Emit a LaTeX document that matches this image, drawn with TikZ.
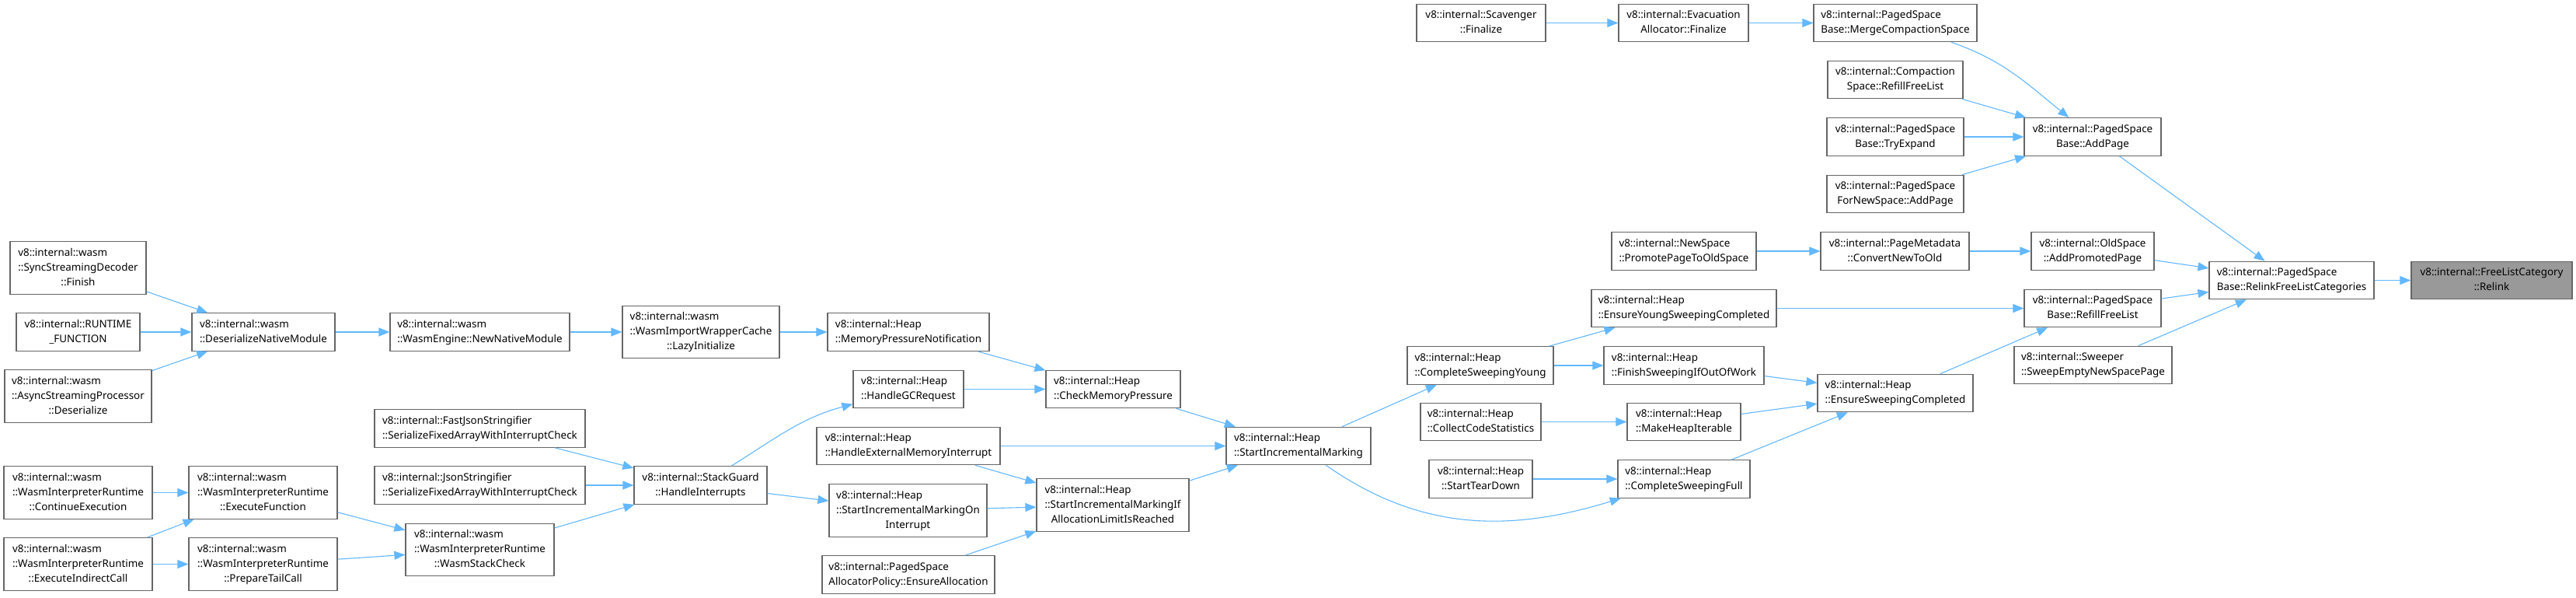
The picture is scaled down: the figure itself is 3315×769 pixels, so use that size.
\documentclass[tikz,border=0pt]{standalone}
\usepackage{fontspec}
\setmainfont{Noto Sans}
\usetikzlibrary{arrows.meta}
\definecolor{edgec}{HTML}{63B8FF}
\definecolor{borderc}{HTML}{666666}
\definecolor{hlc}{HTML}{999999}
\newcommand\lbl[2]{\begin{tabular}{@{}l@{}}#1\\\multicolumn{1}{@{}c@{}}{#2}\end{tabular}}
\tikzset{
  box/.style={draw=borderc, line width=0.6pt, fill=white, inner sep=0pt,
    font=\fontsize{6.7pt}{9.5pt}\selectfont, anchor=center},
  bw/.style={minimum width=#1*0.5pt},
  htwo/.style={minimum height=24.25pt},
  hthree/.style={minimum height=33.75pt},
  hl/.style={fill=hlc},
  edge/.style={draw=edgec, line width=0.55pt, -{Triangle[length=7pt,width=5.5pt]}}
}
\begin{document}
\begin{tikzpicture}[x=0.5pt, y=-0.5pt]
\useasboundingbox (0,0) rectangle (3315,769);
\fill[white] (0,0) rectangle (3315,769);

% left column
\node[box, bw=175, hthree] (sync) at (100.5,344.5) {\lbl{v8::internal::wasm\\::SyncStreamingDecoder}{::Finish}};
\node[box, bw=159, htwo] (runtime) at (100.5,427) {\lbl{v8::internal::RUNTIME}{\_FUNCTION}};
\node[box, bw=189, hthree] (async) at (100.5,509.5) {\lbl{v8::internal::wasm\\::AsyncStreamingProcessor}{::Deserialize}};
\node[box, bw=191, hthree] (cont) at (100.5,633.5) {\lbl{v8::internal::wasm\\::WasmInterpreterRuntime}{::ContinueExecution}};
\node[box, bw=191, hthree] (indir) at (100.5,725.5) {\lbl{v8::internal::wasm\\::WasmInterpreterRuntime}{::ExecuteIndirectCall}};

\node[box, bw=184, htwo] (deser) at (339,427) {\lbl{v8::internal::wasm}{::DeserializeNativeModule}};
\node[box, bw=191, hthree] (execf) at (338.5,633.5) {\lbl{v8::internal::wasm\\::WasmInterpreterRuntime}{::ExecuteFunction}};
\node[box, bw=191, hthree] (tail) at (338.5,725.5) {\lbl{v8::internal::wasm\\::WasmInterpreterRuntime}{::PrepareTailCall}};

\node[box, bw=231, htwo] (newnm) at (617.5,427) {\lbl{v8::internal::wasm}{::WasmEngine::NewNativeModule}};
\node[box, bw=271, htwo] (fastjson) at (617.5,551) {\lbl{v8::internal::FastJsonStringifier}{::SerializeFixedArrayWithInterruptCheck}};
\node[box, bw=271, htwo] (json) at (617.5,624) {\lbl{v8::internal::JsonStringifier}{::SerializeFixedArrayWithInterruptCheck}};
\node[box, bw=191, hthree] (stackcheck) at (617.5,707) {\lbl{v8::internal::wasm\\::WasmInterpreterRuntime}{::WasmStackCheck}};

\node[box, bw=202, hthree] (lazy) at (902,427) {\lbl{v8::internal::wasm\\::WasmImportWrapperCache}{::LazyInitialize}};
\node[box, bw=171, htwo] (hint) at (901.5,624) {\lbl{v8::internal::StackGuard}{::HandleInterrupts}};

\node[box, bw=208, htwo] (mpn) at (1169,427) {\lbl{v8::internal::Heap}{::MemoryPressureNotification}};
\node[box, bw=142, htwo] (hgc) at (1169,500.5) {\lbl{v8::internal::Heap}{::HandleGCRequest}};
\node[box, bw=236, htwo] (hemi) at (1169,573.5) {\lbl{v8::internal::Heap}{::HandleExternalMemoryInterrupt}};
\node[box, bw=203, hthree] (simoi) at (1168.5,656.5) {\lbl{v8::internal::Heap\\::StartIncrementalMarkingOn}{Interrupt}};
\node[box, bw=222, htwo] (ensalloc) at (1169,739) {\lbl{v8::internal::PagedSpace}{AllocatorPolicy::EnsureAllocation}};

\node[box, bw=173, htwo] (cmp) at (1432.5,500.5) {\lbl{v8::internal::Heap}{::CheckMemoryPressure}};
\node[box, bw=196, hthree] (simif) at (1432,649.5) {\lbl{v8::internal::Heap\\::StartIncrementalMarkingIf}{AllocationLimitIsReached}};

\node[box, bw=186, htwo] (sim) at (1671,573.5) {\lbl{v8::internal::Heap}{::StartIncrementalMarking}};

\node[box, bw=166, htwo] (scav) at (1906,29.5) {\lbl{v8::internal::Scavenger}{::Finalize}};
\node[box, bw=188, htwo] (csy) at (1905,470) {\lbl{v8::internal::Heap}{::CompleteSweepingYoung}};
\node[box, bw=155, htwo] (ccs) at (1905.5,542.5) {\lbl{v8::internal::Heap}{::CollectCodeStatistics}};
\node[box, bw=133, htwo] (std) at (1905.5,616) {\lbl{v8::internal::Heap}{::StartTearDown}};

\node[box, bw=167, htwo] (evac) at (2166.5,29.5) {\lbl{v8::internal::Evacuation}{Allocator::Finalize}};
\node[box, bw=186, htwo] (promote) at (2167,323) {\lbl{v8::internal::NewSpace}{::PromotePageToOldSpace}};
\node[box, bw=238, htwo] (eysc) at (2167,396.5) {\lbl{v8::internal::Heap}{::EnsureYoungSweepingCompleted}};
\node[box, bw=206, htwo] (fsw) at (2167,470) {\lbl{v8::internal::Heap}{::FinishSweepingIfOutOfWork}};
\node[box, bw=146, htwo] (mhi) at (2167,542.5) {\lbl{v8::internal::Heap}{::MakeHeapIterable}};
\node[box, bw=170, htwo] (csf) at (2167,616) {\lbl{v8::internal::Heap}{::CompleteSweepingFull}};

\node[box, bw=210, htwo] (mcs) at (2439,29.5) {\lbl{v8::internal::PagedSpace}{Base::MergeCompactionSpace}};
\node[box, bw=174, htwo] (csrfl) at (2439,102.5) {\lbl{v8::internal::Compaction}{Space::RefillFreeList}};
\node[box, bw=176, htwo] (tryexp) at (2439,176) {\lbl{v8::internal::PagedSpace}{Base::TryExpand}};
\node[box, bw=176, htwo] (fnsap) at (2439,249.5) {\lbl{v8::internal::PagedSpace}{ForNewSpace::AddPage}};
\node[box, bw=191, htwo] (cnto) at (2438.5,323) {\lbl{v8::internal::PageMetadata}{::ConvertNewToOld}};
\node[box, bw=200, htwo] (esc) at (2439,505.5) {\lbl{v8::internal::Heap}{::EnsureSweepingCompleted}};

\node[box, bw=176, htwo] (addpage) at (2693,176) {\lbl{v8::internal::PagedSpace}{Base::AddPage}};
\node[box, bw=158, htwo] (app) at (2693,323) {\lbl{v8::internal::OldSpace}{::AddPromotedPage}};
\node[box, bw=176, htwo] (rfl) at (2693,396.5) {\lbl{v8::internal::PagedSpace}{Base::RefillFreeList}};
\node[box, bw=203, htwo] (sweep) at (2693.5,469.5) {\lbl{v8::internal::Sweeper}{::SweepEmptyNewSpacePage}};

\node[box, bw=212, htwo] (rflc) at (2949,360.5) {\lbl{v8::internal::PagedSpace}{Base::RelinkFreeListCategories}};
\node[box, hl, bw=207, htwo] (relink) at (3206.5,360.5) {\lbl{v8::internal::FreeListCategory}{::Relink}};

% edges
\draw[edge] (sync) -- (deser);
\draw[edge] (runtime) -- (deser);
\draw[edge] (async) -- (deser);
\draw[edge] (deser) -- (newnm);
\draw[edge] (newnm) -- (lazy);
\draw[edge] (lazy) -- (mpn);
\draw[edge] (mpn) -- (cmp);
\draw[edge] (hgc) -- (cmp);
\draw[edge] (cmp) -- (sim);
\draw[edge] (hemi) -- (sim);
\draw[edge] (hemi) -- (simif);
\draw[edge] (simoi) -- (simif);
\draw[edge] (ensalloc) -- (simif);
\draw[edge] (simif) -- (sim);
\draw[edge] (hint) to[out=32, in=195] (hgc);
\draw[edge] (hint) -- (simoi);
\draw[edge] (fastjson) -- (hint);
\draw[edge] (json) -- (hint);
\draw[edge] (stackcheck) -- (hint);
\draw[edge] (execf) -- (stackcheck);
\draw[edge] (tail) -- (stackcheck);
\draw[edge] (cont) -- (execf);
\draw[edge] (indir) -- (execf);
\draw[edge] (indir) -- (tail);
\draw[edge] (sim) -- (csy);
\draw[edge] (sim) to[out=-35, in=197] (csf);
\draw[edge] (csy) -- (eysc);
\draw[edge] (csy) -- (fsw);
\draw[edge] (ccs) -- (mhi);
\draw[edge] (std) -- (csf);
\draw[edge] (fsw) -- (esc);
\draw[edge] (mhi) -- (esc);
\draw[edge] (csf) -- (esc);
\draw[edge] (esc) -- (rfl);
\draw[edge] (eysc) -- (rfl);
\draw[edge] (promote) -- (cnto);
\draw[edge] (cnto) -- (app);
\draw[edge] (app) -- (rflc);
\draw[edge] (rfl) -- (rflc);
\draw[edge] (sweep) -- (rflc);
\draw[edge] (addpage) -- (rflc);
\draw[edge] (rflc) -- (relink);
\draw[edge] (scav) -- (evac);
\draw[edge] (evac) -- (mcs);
\draw[edge] (mcs) to[out=-19, in=141] (addpage);
\draw[edge] (csrfl) -- (addpage);
\draw[edge] (tryexp) -- (addpage);
\draw[edge] (fnsap) -- (addpage);
\end{tikzpicture}
\end{document}
